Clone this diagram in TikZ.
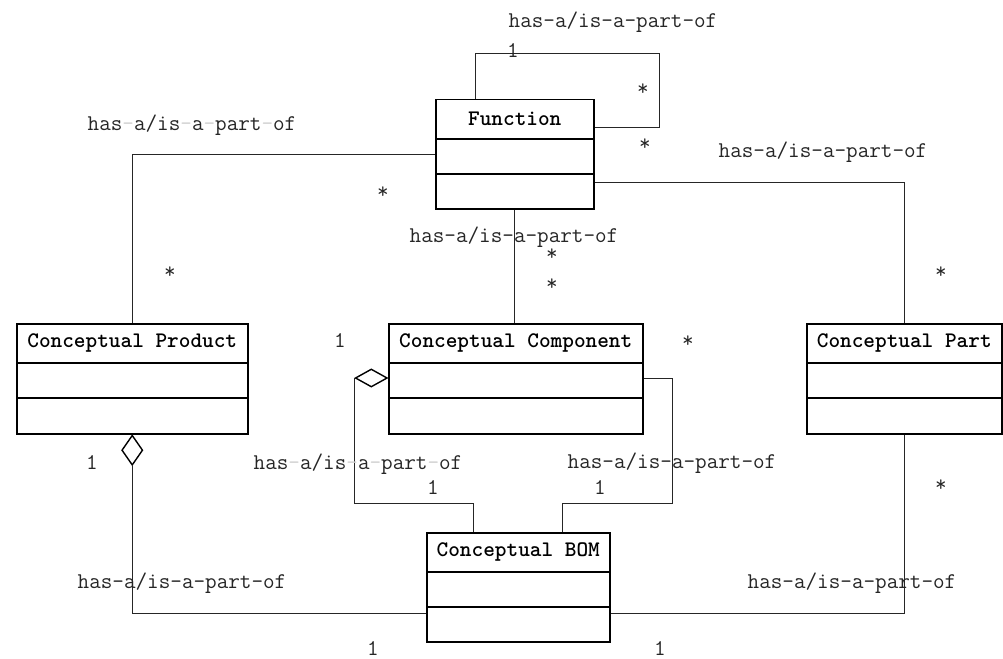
\documentclass[tikz,border=0pt]{standalone}
\usepackage{fontspec}
\usetikzlibrary{shapes.geometric,calc}
\newcommand{\fh}{\textcolor{black!18}{-}}
\begin{document}
\begin{tikzpicture}[x=1pt,y=-1pt,
  cls/.style={draw, line width=1.5pt, anchor=north west, inner sep=0pt},
  title/.style={font=\ttfamily\bfseries\fontsize{22.2}{23}\selectfont, inner sep=0pt},
  lbl/.style={font=\ttfamily\fontsize{22.5}{23}\selectfont, inner sep=0pt, text=black!85},
  sep/.style={line width=1.5pt},
  conn/.style={line width=0.9pt, black!85},
  agg/.style={draw, diamond, fill=white, line width=1.4pt, inner sep=0pt, aspect=1}]
\useasboundingbox (0,0) rectangle (1003,658);

% class boxes
\node[cls, minimum width=158pt, minimum height=109pt] (fn)   at (435,99)  {};
\node[cls, minimum width=231pt, minimum height=110pt] (prod) at (16,323)  {};
\node[cls, minimum width=254pt, minimum height=110pt] (comp) at (388,323) {};
\node[cls, minimum width=195pt, minimum height=110pt] (part) at (806,323) {};
\node[cls, minimum width=183pt, minimum height=109pt] (bom)  at (426,532) {};

% class names
\node[title] (fnt)   at ($(fn.north)+(0,20)$)   {Function};
\node[title] (prodt) at ($(prod.north)+(0,20)$) {Conceptual Product};
\node[title] (compt) at ($(comp.north)+(0,20)$) {Conceptual Component};
\node[title] (partt) at ($(part.north)+(0,20)$) {Conceptual Part};
\node[title] (bomt)  at ($(bom.north)+(0,20)$)  {Conceptual BOM};

% compartment lines
\foreach \b/\a/\c in {fn/40/75, prod/40/75, comp/40/75, part/40/75, bom/40/75}{
  \draw[sep] ($(\b.north west)+(0,\a)$) -- ($(\b.north east)+(0,\a)$);
  \draw[sep] ($(\b.north west)+(0,\c)$) -- ($(\b.north east)+(0,\c)$);
}

% aggregation diamonds
\node[agg, minimum width=21pt, minimum height=30pt, anchor=north] (d1) at (prod.south) {};
\node[agg, minimum width=32pt, minimum height=18pt, anchor=east] (d2) at ($(comp.north west)+(0,55)$) {};

% connectors
\draw[conn] ($(fn.north west)+(40,0)$) |- (659,53) |- ($(fn.north east)+(0,28)$);
\draw[conn] ($(fn.north west)+(0,55)$) -| (prod.north);
\draw[conn] (fn.south) -- (fn.south |- comp.north);
\draw[conn] ($(fn.north east)+(0,83)$) -| (part.north);
\draw[conn] (d1.south) |- ($(bom.north west)+(0,81)$);
\draw[conn] (part.south) |- ($(bom.north east)+(0,81)$);
\draw[conn] (d2.west) -- ++(0,125) -| ($(bom.north west)+(47,0)$);
\draw[conn] ($(comp.north east)+(0,55)$) -| (672,503) -| ($(bom.north west)+(136,0)$);

% role labels and multiplicities
\node[lbl] (t1) at (613,22)  {has-a/is-a-part-of};
\node[lbl] (t2) at (513,50)  {1};
\node[lbl] (t3) at (643,90)  {*};
\node[lbl] (t4) at (645,145) {*};
\node[lbl] (t5) at (192,125) {has\fh a/is\fh a\fh part\fh of};
\node[lbl] (t6) at (383,193) {*};
\node[lbl] (t7) at (170,273) {*};
\node[lbl] (t8) at (823,152) {has-a/is-a-part-of};
\node[lbl] (t9) at (941,273) {*};
\node[lbl] (t10) at (514,237) {has-a/is-a-part-of};
\node[lbl] (t11) at (552,255) {*};
\node[lbl] (t12) at (552,285) {*};
\node[lbl] (t13) at (340,340) {1};
\node[lbl] (t14) at (688,342) {*};
\node[lbl] (t15) at (92,462)  {1};
\node[lbl] (t16) at (358,464) {has\fh a/is\fh a\fh part\fh of};
\node[lbl] (t17) at (433,487) {1};
\node[lbl] (t18) at (672,463) {has-a/is-a-part-of};
\node[lbl] (t19) at (600,487) {1};
\node[lbl] (t20) at (941,486) {*};
\node[lbl] (t21) at (182,583) {has-a/is-a-part-of};
\node[lbl] (t22) at (852,583) {has-a/is-a-part-of};
\node[lbl] (t23) at (373,648) {1};
\node[lbl] (t24) at (660,648) {1};
\end{tikzpicture}
\end{document}
